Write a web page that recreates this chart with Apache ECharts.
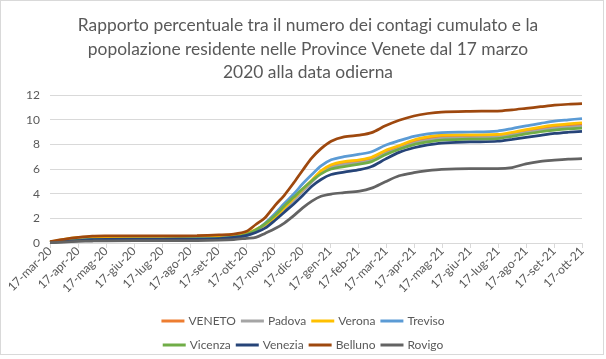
<!DOCTYPE html>
<html>
<head>
<meta charset="utf-8">
<script src="https://cdn.jsdelivr.net/npm/echarts@6/dist/echarts.min.js"></script>
<style>
html,body{margin:0;padding:0;background:#fff;}
#wrap{position:absolute;left:0;top:0;width:604px;height:355px;border:1px solid #d9d9d9;box-sizing:border-box;}
#chart{position:absolute;left:0;top:0;width:606px;height:359px;}
</style>
</head>
<body>
<div id="wrap"></div>
<div id="chart"></div>
<script>
// Sample dates (x) shared by all series
const dates = ['2020-03-17','2020-04-01','2020-04-17','2020-05-02','2020-05-17','2020-07-17','2020-08-24','2020-09-17','2020-10-03','2020-10-17','2020-10-27','2020-11-06','2020-11-17','2020-11-27','2020-12-07','2020-12-17','2020-12-27','2021-01-06','2021-01-17','2021-01-31','2021-02-17','2021-03-02','2021-03-17','2021-04-01','2021-04-17','2021-05-02','2021-05-17','2021-06-17','2021-07-17','2021-08-02','2021-08-17','2021-09-02','2021-09-17','2021-10-02','2021-10-17'];

// Tick labels on x axis
const monthLabels = ['17-mar-20','17-apr-20','17-mag-20','17-giu-20','17-lug-20','17-ago-20','17-set-20','17-ott-20','17-nov-20','17-dic-20','17-gen-21','17-feb-21','17-mar-21','17-apr-21','17-mag-21','17-giu-21','17-lug-21','17-ago-21','17-set-21','17-ott-21'];

const seriesNames = ['VENETO','Padova','Verona','Treviso','Vicenza','Venezia','Belluno','Rovigo'];

const veneto  = [0.05,0.15,0.27,0.35,0.38,0.40,0.42,0.47,0.56,0.74,1.05,1.50,2.10,2.80,3.55,4.30,5.05,5.75,6.20,6.45,6.60,6.80,7.35,7.78,8.20,8.45,8.60,8.65,8.70,8.88,9.08,9.27,9.42,9.52,9.60];
const padova  = [0.06,0.18,0.30,0.38,0.42,0.43,0.45,0.50,0.58,0.75,1.05,1.50,2.05,2.75,3.45,4.20,4.95,5.65,6.10,6.35,6.50,6.70,7.25,7.65,8.08,8.32,8.48,8.53,8.58,8.76,8.95,9.14,9.29,9.38,9.45];
const verona  = [0.10,0.30,0.45,0.50,0.52,0.53,0.55,0.60,0.68,0.80,1.10,1.50,2.10,2.85,3.60,4.35,5.10,5.85,6.35,6.60,6.75,6.95,7.50,7.90,8.35,8.60,8.75,8.77,8.80,8.98,9.20,9.40,9.55,9.66,9.75];
const treviso = [0.05,0.15,0.25,0.28,0.30,0.31,0.33,0.38,0.48,0.60,1.00,1.60,2.40,3.20,3.95,4.80,5.55,6.25,6.75,7.00,7.20,7.40,7.93,8.30,8.65,8.85,8.95,9.00,9.08,9.28,9.50,9.70,9.88,9.99,10.09];
const vicenza = [0.04,0.13,0.22,0.28,0.30,0.32,0.34,0.38,0.48,0.70,1.05,1.55,2.25,3.00,3.70,4.40,5.05,5.60,6.00,6.20,6.40,6.60,7.15,7.60,7.98,8.20,8.35,8.42,8.47,8.65,8.84,9.02,9.15,9.25,9.32];
const venezia = [0.04,0.12,0.20,0.27,0.29,0.30,0.32,0.36,0.45,0.62,0.85,1.20,1.85,2.50,3.15,3.85,4.60,5.15,5.55,5.75,5.95,6.20,6.80,7.35,7.72,7.95,8.10,8.19,8.25,8.40,8.56,8.73,8.88,8.98,9.06];
const belluno = [0.12,0.30,0.45,0.55,0.57,0.58,0.60,0.65,0.72,0.95,1.50,2.05,3.05,3.87,4.85,5.90,6.90,7.65,8.25,8.60,8.75,8.95,9.50,9.95,10.30,10.50,10.62,10.68,10.70,10.80,10.92,11.05,11.17,11.25,11.30];
const rovigo  = [0.03,0.08,0.13,0.16,0.18,0.19,0.20,0.23,0.28,0.38,0.45,0.78,1.17,1.62,2.20,2.85,3.40,3.79,3.97,4.08,4.20,4.45,4.97,5.45,5.70,5.86,5.97,6.03,6.03,6.12,6.42,6.62,6.72,6.80,6.85];

const allValues = [veneto,padova,verona,treviso,vicenza,venezia,belluno,rovigo];
const colors = ['#ED7D31','#A5A5A5','#FFC000','#5B9BD5','#70AD47','#264478','#9E480E','#636363'];

const yTicks = [0,2,4,6,8,10,12];

const FONT = "Lato,'Liberation Sans',sans-serif";
const chart = echarts.init(document.getElementById('chart'), null, {renderer:'canvas'});

const series = seriesNames.map((n,i)=>({
  name:n, type:'line', xAxisIndex:0, yAxisIndex:0,
  showSymbol:false, symbol:'none', smooth:0.3,
  lineStyle:{color:colors[i], width:2.75},
  itemStyle:{color:colors[i]},
  data: dates.map((d,k)=>[d, allValues[i][k]]),
  z: 2+i
}));

const legendCommon = {
  icon:'rect', itemWidth:23, itemHeight:3, itemGap:5,
  textStyle:{color:'#595959', fontSize:12, fontFamily:FONT, padding:[0,0,0,-1]},
  selectedMode:false
};

chart.setOption({
  animation:false,
  backgroundColor:'transparent',
  title:{
    text:'Rapporto percentuale tra il numero dei contagi cumulato e la\npopolazione residente nelle Province Venete dal 17 marzo\n2020 alla data odierna',
    left:303, top:9, textAlign:'center',
    textStyle:{color:'#595959', fontSize:17.4, fontWeight:'normal', lineHeight:23.5, fontFamily:FONT}
  },
  legend:[
    Object.assign({data:seriesNames.slice(0,4), left:'center', top:310}, legendCommon),
    Object.assign({data:seriesNames.slice(4), left:'center', top:334}, legendCommon)
  ],
  grid:{left:50, right:24, top:95, bottom:116, containLabel:false},
  xAxis:[
    {type:'time', min:dates[0], max:dates[dates.length-1], show:false},
    {type:'category', data:monthLabels, boundaryGap:false, position:'bottom',
     axisLine:{show:true, lineStyle:{color:'#d9d9d9', width:1}},
     axisTick:{show:true, interval:0, length:5, lineStyle:{color:'#d9d9d9'}},
     axisLabel:{interval:0, rotate:45, color:'#595959', fontSize:12, fontFamily:FONT, margin:6},
     splitLine:{show:false}}
  ],
  yAxis:{
    type:'value', min:yTicks[0], max:yTicks[yTicks.length-1], interval:2,
    axisLine:{show:false}, axisTick:{show:false},
    axisLabel:{color:'#595959', fontSize:12, fontFamily:FONT, margin:10},
    splitLine:{lineStyle:{color:'#d9d9d9', width:1}}
  },
  series: series
});
</script>
</body>
</html>
